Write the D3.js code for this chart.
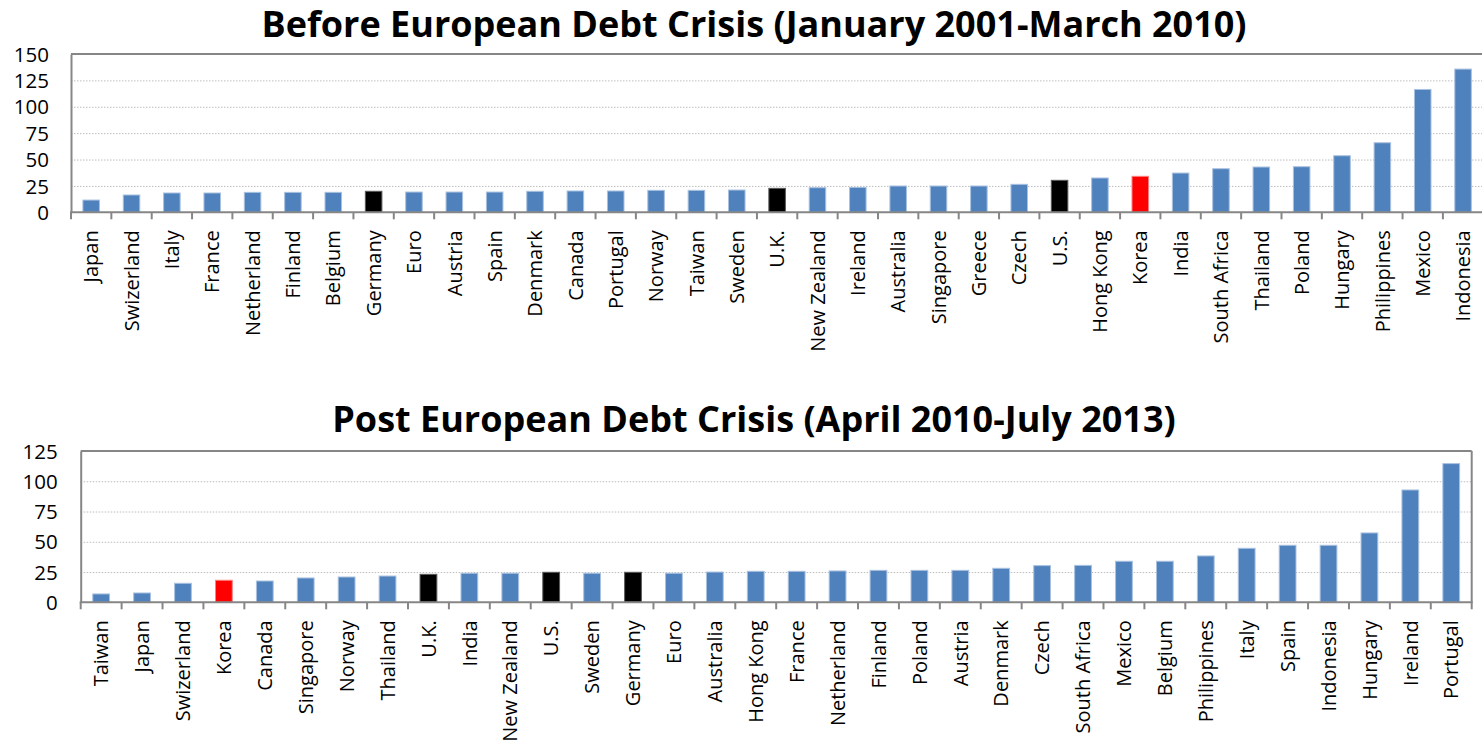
<!DOCTYPE html>
<html>
<head>
<meta charset="utf-8">
<script src="https://cdn.jsdelivr.net/npm/d3@7"></script>
<style>
  html, body { margin: 0; padding: 0; background: #fff; }
  svg { display: block; font-family: "Open Sans", "Noto Sans", sans-serif; }
  .title { font-weight: bold; font-size: 36px; fill: #000; }
  .ylab { font-size: 20.5px; fill: #000; }
  .xlab { font-size: 20px; fill: #000; }
</style>
</head>
<body>
<svg id="chart" width="1482" height="744"></svg>
<script>
// Period 1: January 2001 - March 2010
const beforeCountries = ["Japan","Swizerland","Italy","France","Netherland","Finland","Belgium","Germany","Euro","Austria","Spain","Denmark","Canada","Portugal","Norway","Taiwan","Sweden","U.K.","New Zealand","Ireland","Australia","Singapore","Greece","Czech","U.S.","Hong Kong","Korea","India","South Africa","Thailand","Poland","Hungary","Philippines","Mexico","Indonesia"];
const beforeValues = [11.6,16.4,18.3,18.3,18.9,18.9,18.9,19.9,19.2,19.2,19.2,19.9,20.2,20.2,20.8,20.8,21.1,22.7,23.3,23.6,24.9,24.9,24.9,26.5,30.3,32.5,34.1,37.2,41.3,42.9,43.2,53.6,65.9,116.4,135.7];
const beforeTicks = [0,25,50,75,100,125,150];

// Period 2: April 2010 - July 2013
const postCountries = ["Taiwan","Japan","Swizerland","Korea","Canada","Singapore","Norway","Thailand","U.K.","India","New Zealand","U.S.","Sweden","Germany","Euro","Australia","Hong Kong","France","Netherland","Finland","Poland","Austria","Denmark","Czech","South Africa","Mexico","Belgium","Philippines","Italy","Spain","Indonesia","Hungary","Ireland","Portugal"];
const postValues = [6.9,7.7,15.7,18.2,17.6,20.1,20.9,21.7,23.1,24.0,24.0,24.8,24.0,24.8,24.0,25.0,25.6,25.6,25.9,26.4,26.4,26.4,28.1,30.3,30.5,33.9,33.9,38.3,44.6,47.1,47.1,57.3,92.8,114.6];
const postTicks = [0,25,50,75,100,125];

// Highlighted economies
const redCountries = ["Korea"];
const blackCountries = ["Germany","U.K.","U.S."];

const svg = d3.select("#chart");

function barColor(name) {
  if (redCountries.includes(name)) return "#FF0000";
  if (blackCountries.includes(name)) return "#000000";
  return "#4F81BD";
}
function barStroke(name) {
  if (redCountries.includes(name)) return "#FF8080";
  if (blackCountries.includes(name)) return "#5a5a5a";
  return "#A9C1E0";
}

function drawPanel(cfg) {
  const { names, values, ticks, left, right, top, bottom, title, titleY, labelRight } = cfg;
  const g = svg.append("g");

  const x = d3.scaleBand().domain(names).range([left, right])
    .paddingInner(0.59).paddingOuter(0.295);
  const y = d3.scaleLinear().domain([0, d3.max(ticks)]).range([bottom, top]);

  // title
  g.append("text").attr("class", "title")
    .attr("x", 754).attr("y", titleY)
    .attr("text-anchor", "middle")
    .text(title);

  // dotted gridlines
  g.append("g").selectAll("line")
    .data(ticks.filter(t => t > 0 && t < d3.max(ticks)))
    .join("line")
    .attr("x1", left).attr("x2", right)
    .attr("y1", d => y(d) + 0.5).attr("y2", d => y(d) + 0.5)
    .attr("stroke", "#BDBDBD").attr("stroke-width", 1)
    .attr("stroke-dasharray", "1.5,1.5");

  // plot frame (top and right edges)
  g.append("line").attr("x1", left).attr("x2", right)
    .attr("y1", y(d3.max(ticks))).attr("y2", y(d3.max(ticks)))
    .attr("stroke", "#868686").attr("stroke-width", 2);
  if (labelRight) {
    g.append("line").attr("x1", right).attr("x2", right)
      .attr("y1", y(d3.max(ticks))).attr("y2", bottom)
      .attr("stroke", "#868686").attr("stroke-width", 2);
  }

  // bars
  g.append("g").selectAll("rect")
    .data(names.map((n, i) => ({ name: n, value: values[i] })))
    .join("rect")
    .attr("x", d => x(d.name))
    .attr("width", x.bandwidth())
    .attr("y", d => y(d.value))
    .attr("height", d => y(0) - y(d.value))
    .attr("fill", d => barColor(d.name))
    .attr("stroke", d => barStroke(d.name))
    .attr("stroke-width", 1);

  // y axis
  const yAxis = d3.axisLeft(y).tickValues(ticks).tickSize(0).tickPadding(0);
  const ya = g.append("g").attr("transform", `translate(${left},0)`).call(yAxis);
  ya.attr("font-family", null).attr("font-size", null);
  ya.select(".domain").attr("stroke", "#868686").attr("stroke-width", 2);
  ya.selectAll("text").attr("class", "ylab")
    .attr("x", -cfg.ylabGap)
    .attr("dy", "0.35em");

  // x axis with ticks at category boundaries
  const step = x.step();
  const bounds = d3.range(names.length + 1).map(i => left + i * step);
  g.append("g").selectAll("line")
    .data(bounds)
    .join("line")
    .attr("x1", d => d).attr("x2", d => d)
    .attr("y1", bottom).attr("y2", bottom + 7)
    .attr("stroke", "#868686").attr("stroke-width", 2);
  g.append("line").attr("x1", left - 1).attr("x2", right + 1)
    .attr("y1", bottom).attr("y2", bottom)
    .attr("stroke", "#868686").attr("stroke-width", 2);

  g.append("g").selectAll("text")
    .data(names)
    .join("text")
    .attr("class", "xlab")
    .attr("transform", d => `translate(${x(d) + x.bandwidth() / 2},${bottom + 18}) rotate(-90)`)
    .attr("text-anchor", "end")
    .attr("dy", "0.36em")
    .text(d => d);
}

drawPanel({
  names: beforeCountries, values: beforeValues, ticks: beforeTicks,
  left: 71, right: 71 + 35 * 40.35, top: 54, bottom: 212.3,
  title: "Before European Debt Crisis (January 2001-March 2010)", titleY: 37,
  ylabGap: 22, labelRight: false
});

drawPanel({
  names: postCountries, values: postValues, ticks: postTicks,
  left: 80.7, right: 1471.7, top: 451, bottom: 602.3,
  title: "Post European Debt Crisis (April 2010-July 2013)", titleY: 432,
  ylabGap: 23, labelRight: true
});
</script>
</body>
</html>
